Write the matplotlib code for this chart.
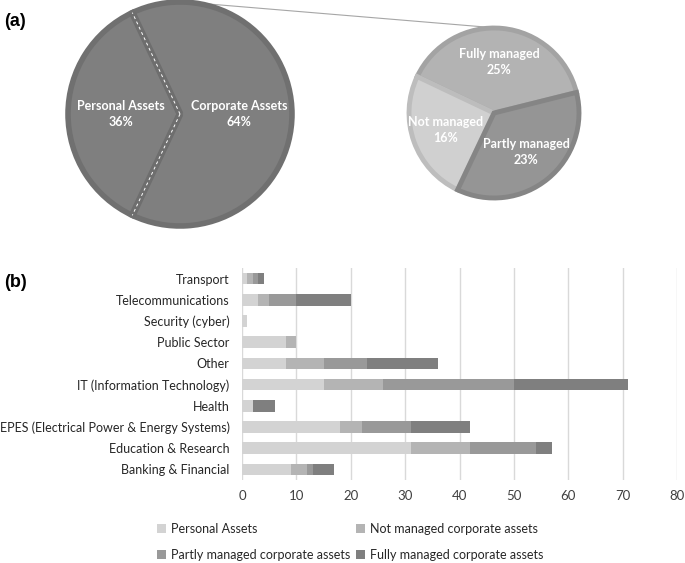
import numpy as np
import matplotlib
matplotlib.use("Agg")
import matplotlib.pyplot as plt

plt.rcParams['font.family'] = ['Lato', 'DejaVu Sans']

# pie (a): share of all assets, and split of the corporate ones
main_labels = ["Personal Assets", "Corporate Assets"]
main_pct = [36, 64]
corp_labels = ["Fully managed", "Not managed", "Partly managed"]
corp_pct = [25, 16, 23]

# bars (b): counts per sector
sectors = ["Transport", "Telecommunications", "Security (cyber)", "Public Sector", "Other",
           "IT (Information Technology)", "Health", "EPES (Electrical Power & Energy Systems)",
           "Education & Research", "Banking & Financial"]
personal = [1, 3, 1, 8, 8, 15, 2, 18, 31, 9]
not_managed = [1, 2, 0, 2, 7, 11, 0, 4, 11, 3]
partly = [1, 5, 0, 0, 8, 24, 0, 9, 12, 1]
fully = [1, 10, 0, 0, 13, 21, 4, 11, 3, 4]
series_names = ["Personal Assets", "Not managed corporate assets",
                "Partly managed corporate assets", "Fully managed corporate assets"]
bar_colors = ["#d3d3d3", "#b4b4b4", "#999999", "#7f7f7f"]

W, H = 685, 563
fig = plt.figure(figsize=(W / 100, H / 100), dpi=100)

# ---- (a) pies, drawn in pixel-like data units
top_h = 240
ax = fig.add_axes([0, 1 - top_h / H, 1, top_h / H])
c1, r1 = (180, 126), 112
c2, r2 = (494, 127), 85

w1, _ = ax.pie(main_pct, colors=["#7f7f7f", "#7f7f7f"], startangle=180 - 3.6 * main_pct[0] / 2,
               center=c1, radius=r1, frame=True,
               wedgeprops=dict(edgecolor="#707070", linewidth=4))
for t in (w1[0].theta1, w1[0].theta2):
    a = np.deg2rad(t)
    ax.plot([c1[0], c1[0] + r1 * np.cos(a)], [c1[1], c1[1] + r1 * np.sin(a)],
            color="#6e6e6e", lw=5, solid_capstyle="butt", zorder=4)
    ax.plot([c1[0], c1[0] + r1 * np.cos(a)], [c1[1], c1[1] + r1 * np.sin(a)],
            color="white", lw=0.7, ls=(0, (3, 3)), zorder=5)
for w, lab, p in zip(w1, main_labels, main_pct):
    mid = np.deg2rad((w.theta1 + w.theta2) / 2)
    ax.text(c1[0] + 0.53 * r1 * np.cos(mid), c1[1] + 0.53 * r1 * np.sin(mid),
            f"{lab}\n{p}%", color="white", fontsize=9, fontweight="bold",
            ha="center", va="center", linespacing=1.4, zorder=6)

w2, _ = ax.pie(corp_pct, colors=["#b3b3b3", "#d0d0d0", "#959595"], startangle=14,
               center=c2, radius=r2, frame=True, wedgeprops=dict(linewidth=3.5))
for w, ec in zip(w2, ["#a3a3a3", "#bdbdbd", "#858585"]):
    w.set_edgecolor(ec)
for w, lab, p in zip(w2, corp_labels, corp_pct):
    mid = np.deg2rad((w.theta1 + w.theta2) / 2)
    ax.text(c2[0] + 0.6 * r2 * np.cos(mid), c2[1] + 0.6 * r2 * np.sin(mid),
            f"{lab}\n{p}%", color="white", fontsize=9, fontweight="bold",
            ha="center", va="center", linespacing=1.4)

a = np.deg2rad(85)
ax.plot([c1[0] + r1 * np.cos(a), c2[0] + 3], [c1[1] + r1 * np.sin(a), c2[1] + r2],
        color="#a6a6a6", lw=0.8, zorder=0)

ax.set_xlim(0, W)
ax.set_ylim(0, top_h)
ax.set_aspect("equal")
ax.axis("off")

fig.text(4 / W, 1 - 22 / H, "(a)", fontsize=13, fontweight="bold",
         family="Liberation Sans", va="center")
fig.text(4 / W, 1 - 283 / H, "(b)", fontsize=13, fontweight="bold",
         family="Liberation Sans", va="center")

# ---- (b) stacked horizontal bars
bx = fig.add_axes([242 / W, 1 - 480 / H, 435 / W, 212 / H])
y = np.arange(len(sectors))
left = np.zeros(len(sectors))
bars = []
for vals, name, col in zip([personal, not_managed, partly, fully], series_names, bar_colors):
    b = bx.barh(y, vals, left=left, height=0.55, color=col, label=name, zorder=2)
    bars.append(b)
    left += np.array(vals)

bx.set_ylim(len(sectors) - 0.5, -0.5)
bx.set_xlim(0, 80)
bx.set_xticks(range(0, 81, 10))
bx.set_yticks(y)
bx.set_yticklabels(sectors)
bx.grid(axis="x", color="#d9d9d9", lw=1, zorder=0)
for s in ["top", "right", "bottom", "left"]:
    bx.spines[s].set_visible(False)
bx.tick_params(axis="y", length=0, pad=9, labelsize=9, labelcolor="#262626")
bx.tick_params(axis="x", length=0, pad=7, labelsize=9.5, labelcolor="#404040")

order = [0, 2, 1, 3]
fig.legend([bars[i] for i in order], [series_names[i] for i in order], ncol=2,
           loc="center", bbox_to_anchor=(350 / W, 1 - 542 / H), frameon=False,
           fontsize=9, handlelength=0.7, handleheight=0.7, handletextpad=0.4,
           columnspacing=0.5, labelspacing=1.1, labelcolor="#262626")

fig.savefig("out.png", dpi=100)
